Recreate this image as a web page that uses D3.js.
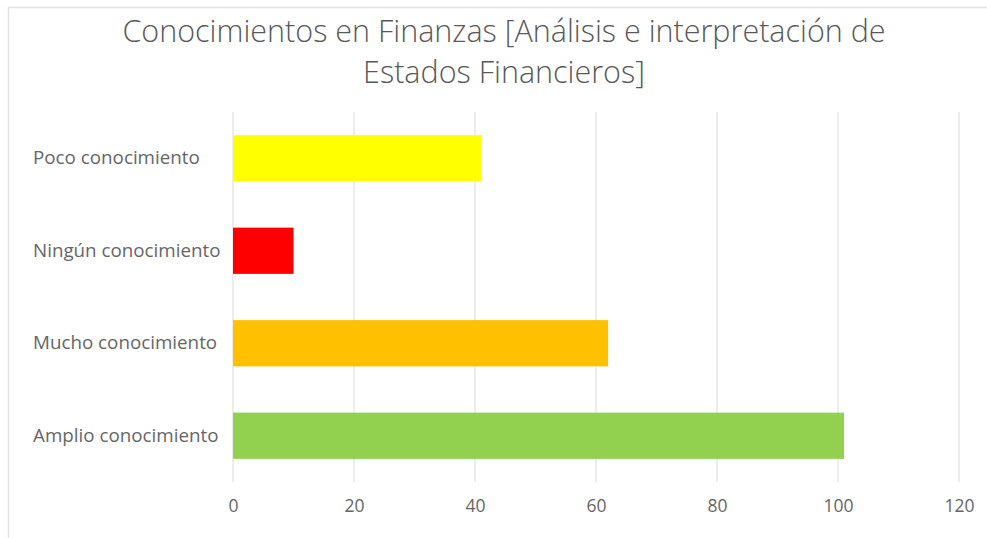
<!DOCTYPE html>
<html>
<head>
<meta charset="utf-8">
<script src="https://cdn.jsdelivr.net/npm/d3@7"></script>
<style>
  body { margin: 0; background: #fff; }
  text { font-family: "Open Sans", "Noto Sans", sans-serif; }
</style>
</head>
<body>
<script>
// data
const categories = ["Poco conocimiento", "Ningún conocimiento", "Mucho conocimiento", "Amplio conocimiento"];
const values = [41, 10, 62, 101];
const colors = ["#ffff00", "#ff0000", "#ffc000", "#92d050"];
const xTicks = [0, 20, 40, 60, 80, 100, 120];
const titleLines = ["Conocimientos en Finanzas [Análisis e interpretación de", "Estados Financieros]"];

const W = 987, H = 538;
const svg = d3.select("body").append("svg")
  .attr("width", W)
  .attr("height", H);

// chart border (only top and left edges show in the picture)
svg.append("path")
  .attr("d", `M8.5,${H} V7.5 H${W}`)
  .attr("fill", "none")
  .attr("stroke", "#e3e3e3")
  .attr("stroke-width", 1.5);

const plot = { left: 233, right: 959, top: 112, bottom: 482 };

const x = d3.scaleLinear().domain([0, 120]).range([plot.left, plot.right]);
const y = d3.scaleBand().domain(categories).range([plot.top, plot.bottom]).paddingInner(0.5).paddingOuter(0.25);

// title
svg.append("g").selectAll("text")
  .data(titleLines)
  .enter().append("text")
  .attr("x", 504)
  .attr("y", (d, i) => 42 + i * 41)
  .attr("text-anchor", "middle")
  .attr("fill", "#595959")
  .style("font-size", "30.5px")
  .style("font-weight", 300)
  .text(d => d);

// gridlines
svg.append("g").selectAll("line")
  .data(xTicks)
  .enter().append("line")
  .attr("x1", d => x(d)).attr("x2", d => x(d))
  .attr("y1", plot.top).attr("y2", plot.bottom)
  .attr("stroke", "#d9d9d9")
  .attr("stroke-width", 1);

// x axis labels
const xAxis = d3.axisBottom(x).tickValues(xTicks).tickSize(0).tickPadding(18);
const gx = svg.append("g")
  .attr("transform", `translate(0, ${plot.bottom})`)
  .call(xAxis);
gx.select(".domain").remove();
gx.selectAll("text")
  .attr("fill", "#666")
  .style("font-size", "17.5px");

// y axis labels, left aligned like the original
const yAxis = d3.axisLeft(y).tickSize(0);
const gy = svg.append("g")
  .attr("transform", `translate(${plot.left}, 0)`)
  .call(yAxis);
gy.select(".domain").remove();
gy.selectAll(".tick text")
  .attr("x", 33 - plot.left)
  .attr("text-anchor", "start")
  .attr("fill", "#666")
  .style("font-size", "18.8px");

// bars
svg.append("g").selectAll("rect")
  .data(categories)
  .enter().append("rect")
  .attr("x", x(0))
  .attr("y", d => y(d))
  .attr("width", (d, i) => x(values[i]) - x(0))
  .attr("height", y.bandwidth())
  .attr("fill", (d, i) => colors[i]);
</script>
</body>
</html>
